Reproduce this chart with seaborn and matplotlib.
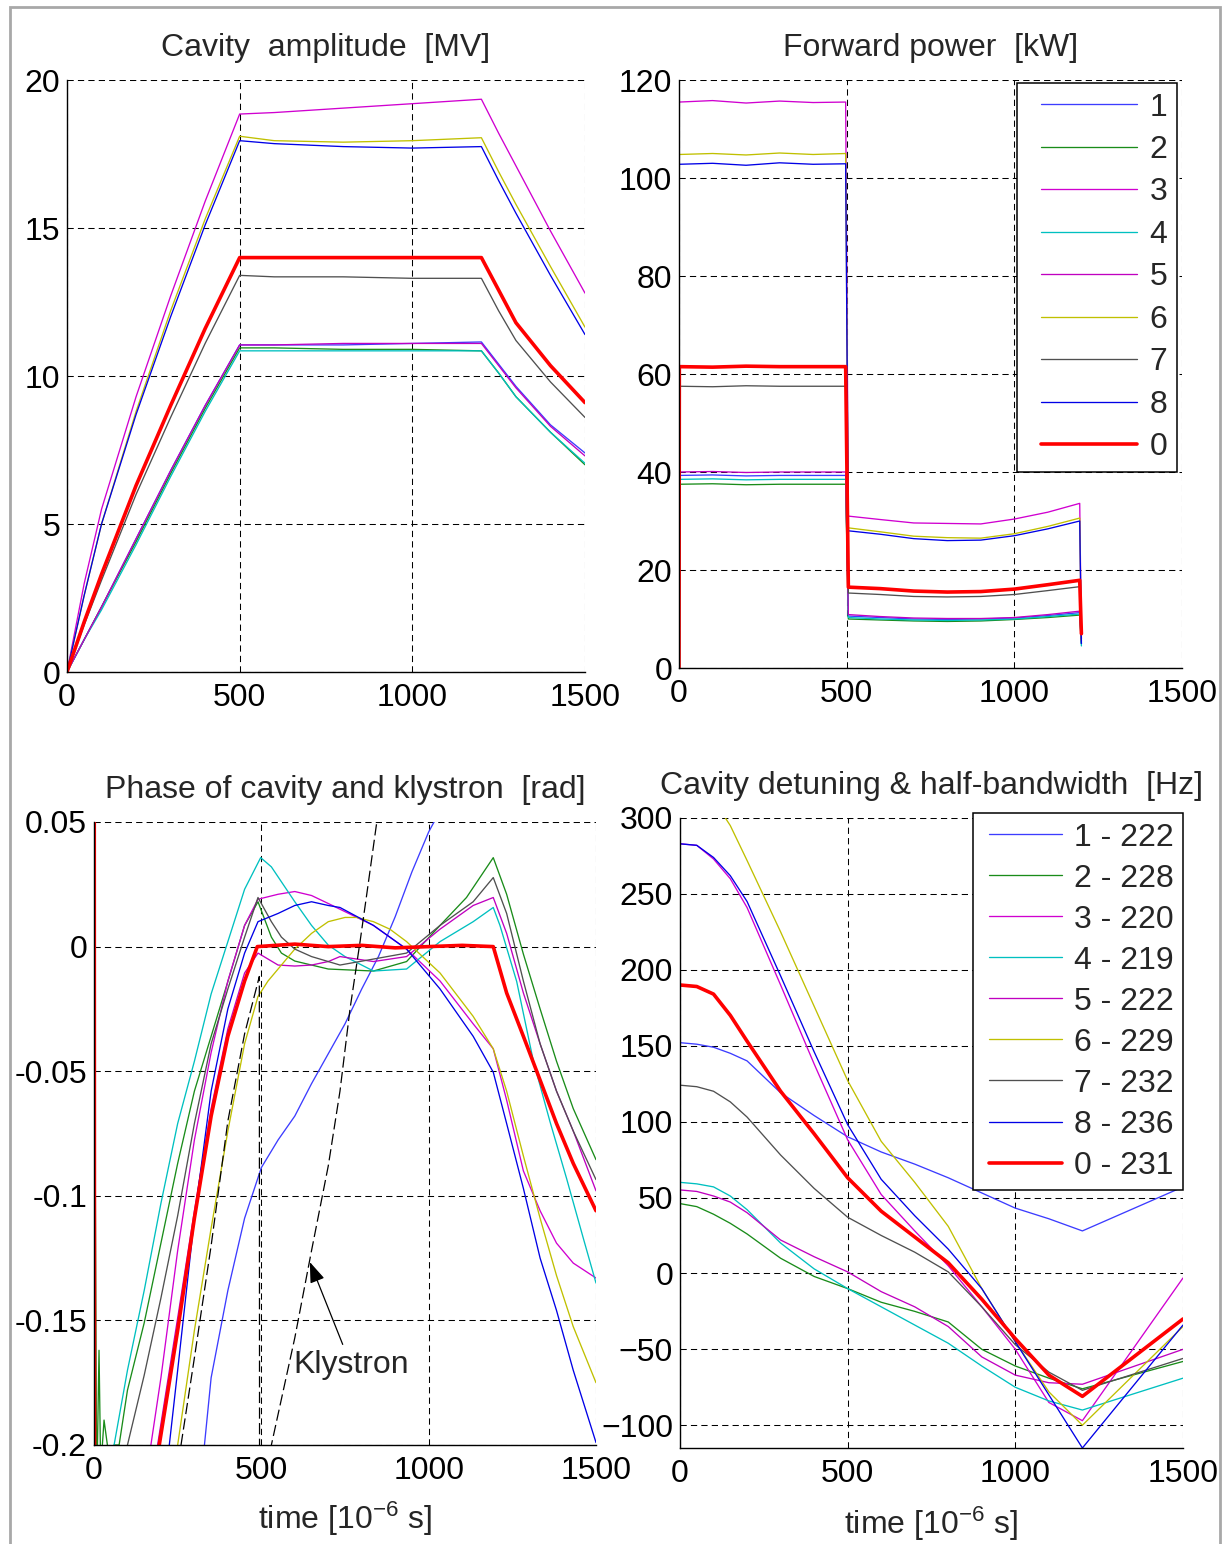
import matplotlib
matplotlib.use("Agg")
import matplotlib.pyplot as plt
from matplotlib.patches import Rectangle
from matplotlib.lines import Line2D
from matplotlib.legend_handler import HandlerLine2D
import seaborn as sns

sns.set_style("white")
plt.rcParams["font.family"] = ["Liberation Sans", "DejaVu Sans"]
plt.rcParams["mathtext.fontset"] = "custom"
plt.rcParams["mathtext.rm"] = "Liberation Sans"
plt.rcParams["mathtext.it"] = "Liberation Sans"
plt.rcParams["mathtext.bf"] = "Liberation Sans:bold"

# ---------------------------------------------------------------- data
channels = ["1", "2", "3", "4", "5", "6", "7", "8", "0"]
half_bandwidth = ["222", "228", "220", "219", "222", "229", "232", "236", "231"]

colors = {
    "1": "#3c3cff", "2": "#1a8c1a", "3": "#d000d0", "4": "#00c0c0",
    "5": "#c000c0", "6": "#c0c000", "7": "#505050", "8": "#0000e6",
    "0": "#ff0000",
}

# cavity amplitude [MV]
amp_t = [0, 50, 100, 200, 300, 400, 500, 600, 800, 1000, 1200, 1250, 1300, 1400, 1500]
amp_v = {
    "1": [0, 1.1, 2.2, 4.5, 6.8, 9.0, 11.05, 11.05, 11.05, 11.1, 11.15, 10.4, 9.65, 8.35, 7.4],
    "2": [0, 1.1, 2.2, 4.4, 6.7, 8.9, 10.95, 10.95, 10.9, 10.9, 10.85, 10.1, 9.3, 8.1, 7.0],
    "3": [0, 3.0, 5.5, 9.3, 12.7, 15.9, 18.85, 18.9, 19.05, 19.2, 19.35, 18.2, 17.1, 14.9, 12.8],
    "4": [0, 1.1, 2.1, 4.3, 6.6, 8.8, 10.85, 10.85, 10.85, 10.85, 10.85, 10.1, 9.3, 8.1, 7.05],
    "5": [0, 1.1, 2.2, 4.5, 6.8, 9.0, 11.05, 11.05, 11.1, 11.1, 11.1, 10.35, 9.6, 8.3, 7.3],
    "6": [0, 2.6, 5.0, 8.8, 12.2, 15.3, 18.1, 17.95, 17.9, 17.95, 18.05, 16.9, 15.8, 13.7, 11.65],
    "7": [0, 1.6, 3.1, 6.0, 8.6, 11.1, 13.4, 13.35, 13.35, 13.3, 13.3, 12.2, 11.2, 9.8, 8.6],
    "8": [0, 2.6, 5.0, 8.7, 12.0, 15.1, 17.95, 17.85, 17.75, 17.7, 17.75, 16.6, 15.5, 13.4, 11.4],
    "0": [0, 1.7, 3.3, 6.3, 9.0, 11.6, 14.0, 14.0, 14.0, 14.0, 14.0, 12.9, 11.8, 10.35, 9.1],
}

# forward power [kW]
pw_t = [0, 1, 100, 200, 300, 400, 497, 505, 600, 700, 800, 900, 1000, 1100, 1195, 1200]
pw_v = {
    "1": [0, 39.3, 39.4, 39.2, 39.3, 39.3, 39.3, 10.6, 10.3, 10.0, 9.9, 10.0, 10.2, 10.7, 11.3, 5.0],
    "2": [0, 37.5, 37.6, 37.4, 37.5, 37.5, 37.5, 10.0, 9.8, 9.6, 9.5, 9.6, 9.9, 10.3, 10.8, 5.0],
    "3": [0, 115.5, 115.8, 115.3, 115.7, 115.4, 115.5, 31.0, 30.3, 29.6, 29.5, 29.4, 30.4, 31.8, 33.6, 6.0],
    "4": [0, 38.5, 38.6, 38.4, 38.5, 38.5, 38.5, 10.3, 10.0, 9.8, 9.7, 9.8, 10.0, 10.5, 11.0, 4.5],
    "5": [0, 40.0, 40.1, 39.9, 40.0, 40.0, 40.0, 10.9, 10.5, 10.2, 10.1, 10.1, 10.3, 10.9, 11.6, 5.5],
    "6": [0, 104.8, 105.0, 104.7, 105.1, 104.8, 105.0, 28.6, 27.8, 26.9, 26.6, 26.5, 27.4, 28.9, 30.6, 5.5],
    "7": [0, 57.5, 57.4, 57.6, 57.5, 57.5, 57.5, 15.3, 15.0, 14.6, 14.5, 14.6, 15.0, 15.8, 16.6, 6.0],
    "8": [0, 102.8, 103.0, 102.6, 103.1, 102.8, 102.9, 28.0, 27.3, 26.4, 26.0, 26.1, 27.0, 28.4, 30.0, 5.0],
    "0": [0, 61.5, 61.4, 61.6, 61.5, 61.5, 61.5, 16.5, 16.2, 15.7, 15.5, 15.6, 16.1, 17.0, 17.9, 7.0],
}

# phase of cavity and klystron [rad]
ph_t = {
    "1": [330, 350, 400, 450, 500, 550, 600, 650, 700, 750, 800, 850, 900, 950, 1000, 1040],
    "2": [0, 4, 8, 15, 20, 30, 40, 50, 60, 75, 100, 150, 200, 250, 300, 350, 400, 450, 490,
          530, 560, 600, 650, 700, 835, 934, 1034, 1113, 1193, 1233, 1283, 1333, 1382, 1432, 1500],
    "3": [170, 200, 250, 300, 350, 400, 450, 490, 550, 600, 650, 700, 735, 835, 934, 1034,
          1133, 1193, 1233, 1283, 1333, 1382, 1432, 1500],
    "4": [40, 60, 100, 150, 200, 250, 300, 350, 400, 450, 498, 530, 560, 600, 650, 700, 750,
          835, 934, 1034, 1133, 1193, 1213, 1263, 1313, 1362, 1412, 1462, 1500],
    "5": [190, 250, 300, 350, 400, 450, 490, 550, 600, 650, 700, 735, 835, 934, 1034, 1133,
          1193, 1233, 1283, 1333, 1382, 1432, 1500],
    "6": [250, 300, 350, 400, 450, 490, 520, 550, 600, 650, 700, 750, 785, 835, 884, 934,
          1034, 1133, 1193, 1233, 1283, 1333, 1382, 1432, 1500],
    "7": [100, 150, 200, 250, 300, 350, 400, 450, 490, 530, 560, 600, 650, 700, 735, 835,
          934, 1034, 1133, 1193, 1233, 1283, 1333, 1382, 1432, 1500],
    "8": [225, 250, 300, 350, 400, 450, 490, 550, 600, 650, 700, 735, 835, 934, 1034, 1133,
          1193, 1233, 1283, 1333, 1382, 1432, 1500],
    "0": [0, 2, 195, 250, 300, 350, 400, 450, 488, 600, 700, 800, 900, 1000, 1100, 1193,
          1233, 1283, 1333, 1382, 1432, 1500],
}
ph_v = {
    "1": [-0.2, -0.173, -0.138, -0.109, -0.0887, -0.0776, -0.068, -0.055, -0.043, -0.031,
          -0.017, -0.004, 0.012, 0.030, 0.046, 0.056],
    "2": [-0.21, -0.10, -0.22, -0.162, -0.21, -0.19, -0.20, -0.21, -0.20, -0.20, -0.178,
          -0.151, -0.119, -0.087, -0.058, -0.036, -0.014, 0.0085, 0.018, 0.0038, -0.0026,
          -0.0058, -0.0074, -0.009, -0.0098, -0.006, 0.0085, 0.0197, 0.0357, 0.021, -0.003,
          -0.025, -0.046, -0.065, -0.0855],
    "3": [-0.2, -0.173, -0.122, -0.0776, -0.0425, -0.0138, 0.0085, 0.019, 0.021, 0.0221,
          0.0205, 0.0173, 0.015, 0.0085, -0.001, -0.0138, -0.031, -0.041, -0.0616, -0.090,
          -0.106, -0.119, -0.127, -0.133],
    "4": [-0.21, -0.2, -0.17, -0.138, -0.103, -0.071, -0.046, -0.019, 0.002, 0.023, 0.0357,
          0.032, 0.026, 0.018, 0.0085, 0.0006, -0.004, -0.0098, -0.009, 0.002, 0.010, 0.0157,
          0.0085, -0.014, -0.046, -0.07, -0.093, -0.117, -0.135],
    "5": [-0.2, -0.149, -0.106, -0.065, -0.033, -0.0106, -0.0026, -0.0074, -0.0078, -0.0074,
          -0.006, -0.004, -0.006, -0.004, 0.007, 0.0165, 0.0197, 0.0053, -0.0186, -0.039,
          -0.058, -0.074, -0.098],
    "6": [-0.2, -0.154, -0.113, -0.074, -0.039, -0.020, -0.0138, -0.009, -0.001, 0.0053,
          0.010, 0.0117, 0.0117, 0.010, 0.007, 0.002, -0.0106, -0.028, -0.041, -0.058, -0.084,
          -0.109, -0.132, -0.1525, -0.175],
    "7": [-0.2, -0.172, -0.141, -0.108, -0.071, -0.039, -0.017, 0.0038, 0.0197, 0.010,
          0.0038, -0.001, -0.004, -0.006, -0.0074, -0.005, -0.0026, 0.0085, 0.018, 0.0277,
          0.0133, -0.0138, -0.039, -0.058, -0.074, -0.0935],
    "8": [-0.2, -0.17, -0.109, -0.058, -0.025, -0.0026, 0.010, 0.0133, 0.0165, 0.018, 0.0165,
          0.0157, 0.0085, -0.001, -0.017, -0.036, -0.0504, -0.071, -0.097, -0.125, -0.146,
          -0.17, -0.199],
    "0": [0.3, -0.35, -0.2, -0.154, -0.109, -0.068, -0.036, -0.0138, 0.0, 0.001, 0.0, 0.0005,
          -0.0005, 0.0, 0.0005, 0.0, -0.0186, -0.036, -0.0536, -0.071, -0.087, -0.106],
}
klystron_t = [260, 300, 350, 400, 450, 494, 495, 530, 600, 650, 700, 735, 765, 795, 815, 845, 860]
klystron_v = [-0.2, -0.165, -0.12, -0.07, -0.035, -0.012, -0.3, -0.2, -0.157, -0.122, -0.088,
              -0.058, -0.025, 0.002, 0.021, 0.05, 0.07]

# cavity detuning [Hz]
dt_t = [0, 50, 100, 150, 200, 300, 400, 500, 600, 700, 800, 900, 1000, 1100, 1200, 1500]
dt_v = {
    "1": [152, 151, 149, 145, 140, 119, 104, 90, 80, 72, 63, 53, 43, 36, 28, 57],
    "2": [46, 44, 39, 33, 26, 10, -2, -10, -19, -25, -32, -50, -61, -69, -76, -58],
    "3": [283, 282, 273, 260, 241, 190, 138, 88, 52, 28, 5, -22, -50, -85, -97, -3],
    "4": [60, 59, 57, 51, 42, 20, 3, -10, -22, -34, -46, -61, -75, -84, -90, -69],
    "5": [55, 54, 51, 47, 40, 22, 11, 1, -12, -22, -35, -55, -67, -72, -73, -50],
    "6": [330, 323, 312, 295, 272, 225, 176, 127, 87, 60, 31, -10, -45, -78, -100, -35],
    "7": [124, 123, 120, 113, 103, 78, 56, 37, 25, 14, 1, -22, -47, -65, -77, -56],
    "8": [283, 282, 274, 262, 245, 196, 146, 98, 62, 38, 16, -10, -45, -80, -115, -34],
    "0": [190, 189, 184, 170, 153, 120, 92, 63, 41, 24, 7, -17, -43, -67, -81, -30],
}

# ---------------------------------------------------------------- figure
W, H = 1229, 1544
fig = plt.figure(figsize=(W / 100, H / 100), dpi=100)
fig.patch.set_facecolor("white")

FS = 23
THIN = 0.95
THICK = 2.6


def box(l, t, r, b):
    return [l / W, 1 - b / H, (r - l) / W, (b - t) / H]


ax_amp = fig.add_axes(box(67, 80, 585, 672))
ax_pw = fig.add_axes(box(679, 80, 1182, 668))
ax_ph = fig.add_axes(box(94, 822, 596, 1445))
ax_dt = fig.add_axes(box(680, 818, 1183, 1448))


def style(ax, yticks, ylim, ylabels=None):
    ax.set_xlim(0, 1500)
    ax.set_ylim(*ylim)
    ax.set_xticks([0, 500, 1000, 1500])
    ax.set_yticks(yticks)
    if ylabels is not None:
        ax.set_yticklabels(ylabels)
    ax.grid(True, linestyle=(0, (6, 4)), color="black", linewidth=0.75)
    ax.set_axisbelow(True)
    for side in ("top", "right"):
        ax.spines[side].set_visible(False)
    for side in ("left", "bottom"):
        ax.spines[side].set_color("black")
        ax.spines[side].set_linewidth(1.0)
    ax.tick_params(axis="both", labelsize=FS, direction="in", length=5,
                   color="black", labelcolor="black")
    ax.tick_params(axis="x", pad=8)
    ax.tick_params(axis="y", pad=5)
    ax.set_xlabel("")
    ax.set_ylabel("")


def draw(ax, x, y, ch):
    sns.lineplot(x=x, y=y, ax=ax, color=colors[ch], sort=False, estimator=None,
                 linewidth=THICK if ch == "0" else THIN, legend=False)
    return ax.lines[-1]


def add_legend(ax, handles, labels, anchor, inset, **kw):
    # the handle line is drawn only in the right part of its slot, leaving a wider left margin
    leg = ax.legend(handles, labels, loc="upper right", bbox_to_anchor=anchor,
                    borderaxespad=0, fontsize=FS, fancybox=False, framealpha=1,
                    edgecolor="black", handler_map={Line2D: HandlerLine2D(xpad=inset)},
                    **kw)
    leg.get_frame().set_linewidth(1.1)
    return leg


# cavity amplitude
for ch in channels:
    draw(ax_amp, amp_t, amp_v[ch], ch)
style(ax_amp, [0, 5, 10, 15, 20], (0, 20))
ax_amp.set_title("Cavity  amplitude  [MV]", fontsize=FS, pad=17)

# forward power
pw_lines = [draw(ax_pw, pw_t, pw_v[ch], ch) for ch in channels]
style(ax_pw, [0, 20, 40, 60, 80, 100, 120], (0, 120))
ax_pw.set_title("Forward power  [kW]", fontsize=FS, pad=17)
add_legend(ax_pw, pw_lines, channels, (0.990, 0.995), 0.45,
           handlelength=3.45, handletextpad=0.4, labelspacing=0.39, borderpad=0.3)

# phase
for ch in channels:
    draw(ax_ph, ph_t[ch], ph_v[ch], ch)
sns.lineplot(x=klystron_t, y=klystron_v, ax=ax_ph, color="black", sort=False,
             estimator=None, linewidth=0.9, linestyle=(0, (9, 3.5)), legend=False)
style(ax_ph, [-0.2, -0.15, -0.1, -0.05, 0, 0.05], (-0.2, 0.05),
      ["-0.2", "-0.15", "-0.1", "-0.05", "0", "0.05"])
ax_ph.set_title("Phase of cavity and klystron  [rad]", fontsize=FS, pad=17)
ax_ph.set_xlabel("time [10$^{-6}$ s]", fontsize=FS, labelpad=10)
ax_ph.annotate("Klystron", xy=(645, -0.1266), xytext=(768, -0.168), fontsize=FS,
               ha="center", va="center",
               arrowprops=dict(arrowstyle="-|>,head_length=0.55,head_width=0.2",
                               color="black", lw=0.9, shrinkA=2, shrinkB=0))

# detuning
dt_lines = [draw(ax_dt, dt_t, dt_v[ch], ch) for ch in channels]
style(ax_dt, [-100, -50, 0, 50, 100, 150, 200, 250, 300], (-115, 300))
ax_dt.set_title("Cavity detuning & half-bandwidth  [Hz]", fontsize=FS, pad=17)
ax_dt.set_xlabel("time [10$^{-6}$ s]", fontsize=FS, labelpad=11)
add_legend(ax_dt, dt_lines, [f"{ch} - {hb}" for ch, hb in zip(channels, half_bandwidth)],
           (1.0, 1.008), 0.2, handlelength=2.5, handletextpad=0.35, labelspacing=0.345,
           borderpad=0.3)

# light grey frame around the figure
fig.add_artist(Rectangle((10 / W, -0.01), 1210 / W, 1.01 - 7 / H, transform=fig.transFigure,
                         fill=False, edgecolor="#a8a8a8", linewidth=2))

fig.savefig("out.png", dpi=100, facecolor="white")
